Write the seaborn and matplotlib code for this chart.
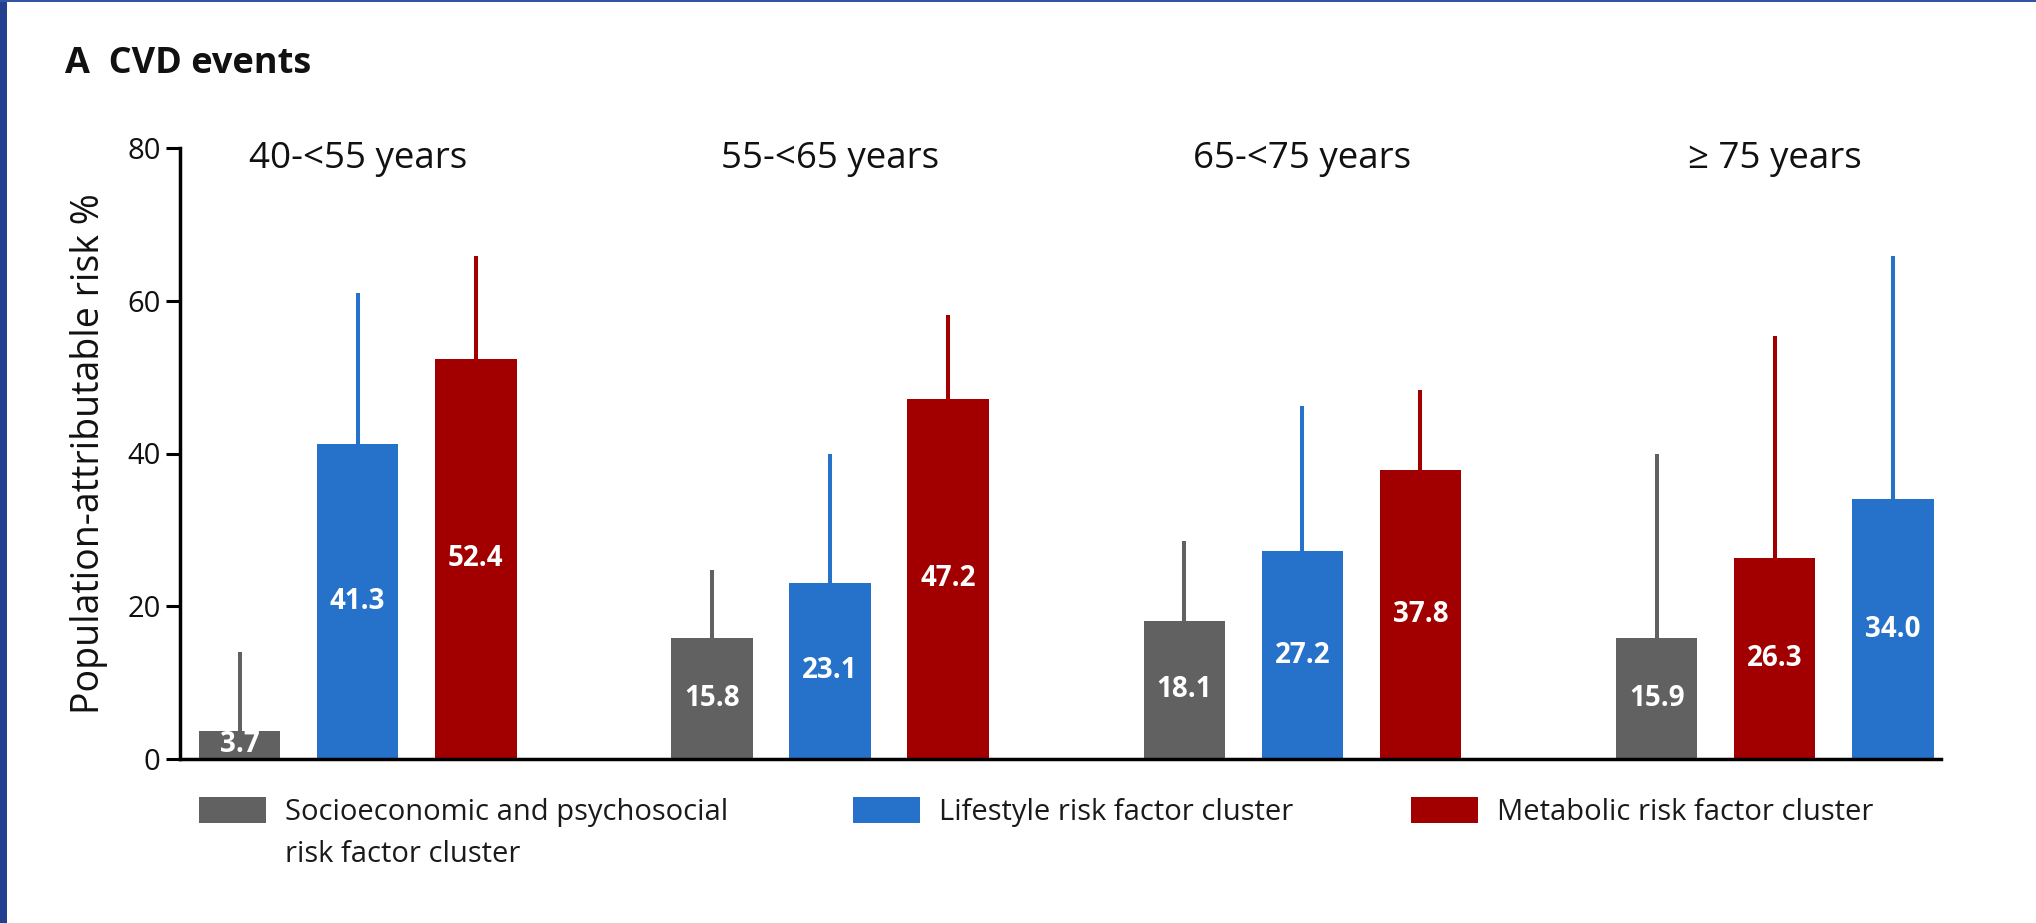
import matplotlib
matplotlib.use("Agg")
import matplotlib.pyplot as plt
from matplotlib.patches import Patch, Rectangle
import pandas as pd
import seaborn as sns

# ---- data -------------------------------------------------------------
age_groups = ["40-<55 years", "55-<65 years", "65-<75 years", "\u2265 75 years"]
cluster_names = ["Socioeconomic and psychosocial\nrisk factor cluster",
                 "Lifestyle risk factor cluster",
                 "Metabolic risk factor cluster"]

socio_par = [3.7, 15.8, 18.1, 15.9]
socio_upper = [14.0, 24.7, 28.5, 39.9]
lifestyle_par = [41.3, 23.1, 27.2, 34.0]
lifestyle_upper = [61.0, 40.0, 46.2, 65.8]
metabolic_par = [52.4, 47.2, 37.8, 26.3]
metabolic_upper = [65.9, 58.1, 48.3, 55.4]

y_ticks = [0, 20, 40, 60, 80]
y_label = "Population-attributable risk %"
panel_title = "A  CVD events"

cluster_colors = ["#616161", "#2672CA", "#A20000"]

# ---- long table; bars inside each age group are ordered by value ---------
rows = []
for vals, ups, name in [(socio_par, socio_upper, cluster_names[0]),
                        (lifestyle_par, lifestyle_upper, cluster_names[1]),
                        (metabolic_par, metabolic_upper, cluster_names[2])]:
    for g, v, u in zip(age_groups, vals, ups):
        rows.append({"age": g, "cluster": name, "par": v, "upper": u})
df = pd.DataFrame(rows)
df["rank"] = df.groupby("age")["par"].rank(method="first").astype(int)
color_of = dict(zip(cluster_names, cluster_colors))

# ---- figure -----------------------------------------------------------
sns.set_theme(style="white")
plt.rcParams["font.family"] = ["Open Sans", "DejaVu Sans"]

W, H = 2036, 923
fig = plt.figure(figsize=(W / 100, H / 100), dpi=100, facecolor="white")
ax = fig.add_axes([180 / W, 1 - 759 / H, (1941 - 180) / W, (759 - 148) / H])

sns.barplot(data=df, x="age", y="par", hue="rank", order=age_groups,
            hue_order=[1, 2, 3], dodge=True, width=0.75, gap=0.31,
            palette=[cluster_colors[0]] * 3, saturation=1, errorbar=None,
            legend=False, linewidth=0, ax=ax)

for cont in ax.containers:
    for bar in cont:
        cx = bar.get_x() + bar.get_width() / 2
        gi = int(round(cx))
        k = int(round((cx - gi) / 0.25)) + 2
        row = df[(df["age"] == age_groups[gi]) & (df["rank"] == k)].iloc[0]
        col = color_of[row["cluster"]]
        bar.set_facecolor(col)
        ax.vlines(cx, row["par"], row["upper"], color=col, lw=2.9, zorder=1)
        ax.text(cx, row["par"] / 2, f"{row['par']:.1f}", ha="center",
                va="center", color="white", fontsize=20, fontweight="bold",
                zorder=4)

# age-group headings across the top of the plot
for i, g in enumerate(age_groups):
    ax.text(i, 77.4, g, ha="center", va="baseline", fontsize=26.5,
            color="#111111")

ax.set_xlim(-0.3762, 3.352)
ax.set_ylim(0, 80)
ax.set_yticks(y_ticks)
ax.set_xticks([])
ax.set_xlabel("")
ax.set_ylabel(y_label, fontsize=27, color="#111111")
ax.yaxis.set_label_coords((108 - 180) / (1941 - 180), 0.5)
ax.tick_params(axis="y", direction="out", length=10, width=2.2,
               labelsize=21, pad=4, colors="black", left=True)
for tl in ax.get_yticklabels():
    tl.set_color("#111111")
for s in ["top", "right"]:
    ax.spines[s].set_visible(False)
for s in ["left", "bottom"]:
    ax.spines[s].set_linewidth(2.5)
    ax.spines[s].set_color("black")
ax.set_facecolor("white")

fig.text(65 / W, 1 - 73 / H, panel_title, fontsize=26, fontweight="bold",
         ha="left", va="baseline", color="#111111")

# legend: one entry per cluster
legend_x = [199, 853, 1411]
legend_y = 1 - 812 / H
legends = []
for name, col, lx in zip(cluster_names, cluster_colors, legend_x):
    first_line = name.split("\n")[0]
    leg = fig.legend(handles=[Patch(facecolor=col, edgecolor="none")],
                     labels=[first_line], loc="center left",
                     bbox_to_anchor=(lx / W, legend_y), frameon=False,
                     borderpad=0, borderaxespad=0, handlelength=2.3,
                     handleheight=1.0, handletextpad=0.65, fontsize=21)
    for t in leg.get_texts():
        t.set_color("#1a1a1a")
    legends.append(leg)

fig.canvas.draw()
renderer = fig.canvas.get_renderer()
for name, leg in zip(cluster_names, legends):
    parts = name.split("\n")
    if len(parts) > 1:
        bb = leg.get_texts()[0].get_window_extent(renderer)
        fig.text(bb.x0 / W, 1 - 855 / H, parts[1], fontsize=21,
                 ha="left", va="center", color="#1a1a1a")

# slide frame
fig.patches.append(Rectangle((0, 0), 7 / W, 1, transform=fig.transFigure,
                             facecolor="#21408F", edgecolor="none",
                             zorder=10))
fig.patches.append(Rectangle((0, 1 - 2 / H), 1, 2 / H,
                             transform=fig.transFigure, facecolor="#3454A6",
                             edgecolor="none", zorder=10))

fig.savefig("out.png", dpi=100, facecolor="white")
